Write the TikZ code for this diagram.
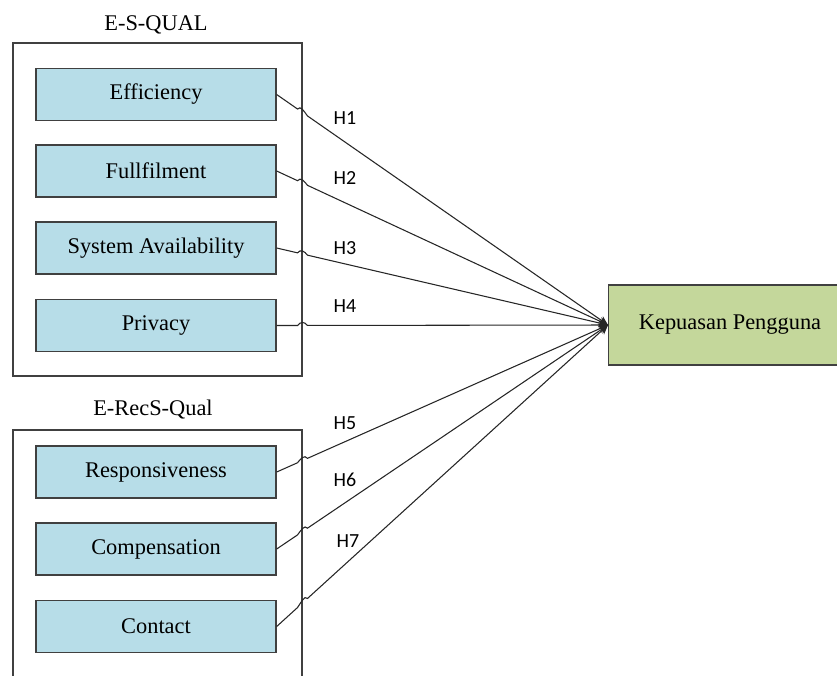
\documentclass[tikz,border=0pt]{standalone}
\usepackage{fontspec}
\setmainfont{Liberation Serif}
\newfontfamily\hfont{Carlito}
\usetikzlibrary{arrows.meta, calc, positioning}
\definecolor{dimb}{HTML}{B7DDE8}
\definecolor{kpg}{HTML}{C4D79B}
\definecolor{edg}{HTML}{404040}

\begin{document}
\begin{tikzpicture}[x=0.75pt, y=-0.75pt,
                dim/.style={draw = edg, line width=1pt, fill = dimb, minimum width=180pt, minimum height=39pt, font=\fontsize{16.8}{20}\selectfont},
                grp/.style={draw = edg, line width=0.8pt},
                hyp/.style={font=\hfont\fontsize{15}{17}\selectfont, text=black},
                link/.style={draw = black!85, line width=0.8pt, -{Stealth[length=7pt, width=6.5pt]}}]
            \useasboundingbox (0,0) rectangle (837,675);
            % groups
            \draw[grp] (13,43) rectangle (302,376);
            \draw[grp] (13,676) |- (302,430) -- (302,676);
            \node[font=\fontsize{16.8}{20}\selectfont] (esq) at (156,25) {E-S-QUAL};
            \node[font=\fontsize{16.8}{20}\selectfont] (erq) at (153,410) {E-RecS-Qual};
            % dimensions
            \node[dim] (eff) at (156,94.5) {Efficiency};
            \node[dim] (ful) at (156,171) {Fullfilment};
            \node[dim] (sys) at (156,248) {System Availability};
            \node[dim] (pri) at (156,325.5) {Privacy};
            \node[dim] (res) at (156,472) {Responsiveness};
            \node[dim] (com) at (156,549) {Compensation};
            \node[dim] (con) at (156,626.5) {Contact};
            \node[dim, fill = kpg, minimum width=182pt, minimum height=60pt, anchor=west] (kp) at (608,325) {Kepuasan Pengguna};
            % hypotheses
            \foreach \src/\lab/\lx/\ly in {eff/H1/345/118, ful/H2/345/178, sys/H3/345/248, pri/H4/345/306,
                                            res/H5/345/423, com/H6/345/480, con/H7/348/541} {
                \coordinate (a) at ($(\src.east)!0.063!(kp.west)$);
                \coordinate (b) at ($(\src.east)!0.093!(kp.west)$);
                \draw[link] (\src.east) -- (a) .. controls ($(a)+(3,-4)$) and ($(b)+(-3,-4)$) .. (b) -- (kp.west);
                \node[hyp] (h\lab) at (\lx,\ly) {\lab};
            }
        \end{tikzpicture}
\end{document}
